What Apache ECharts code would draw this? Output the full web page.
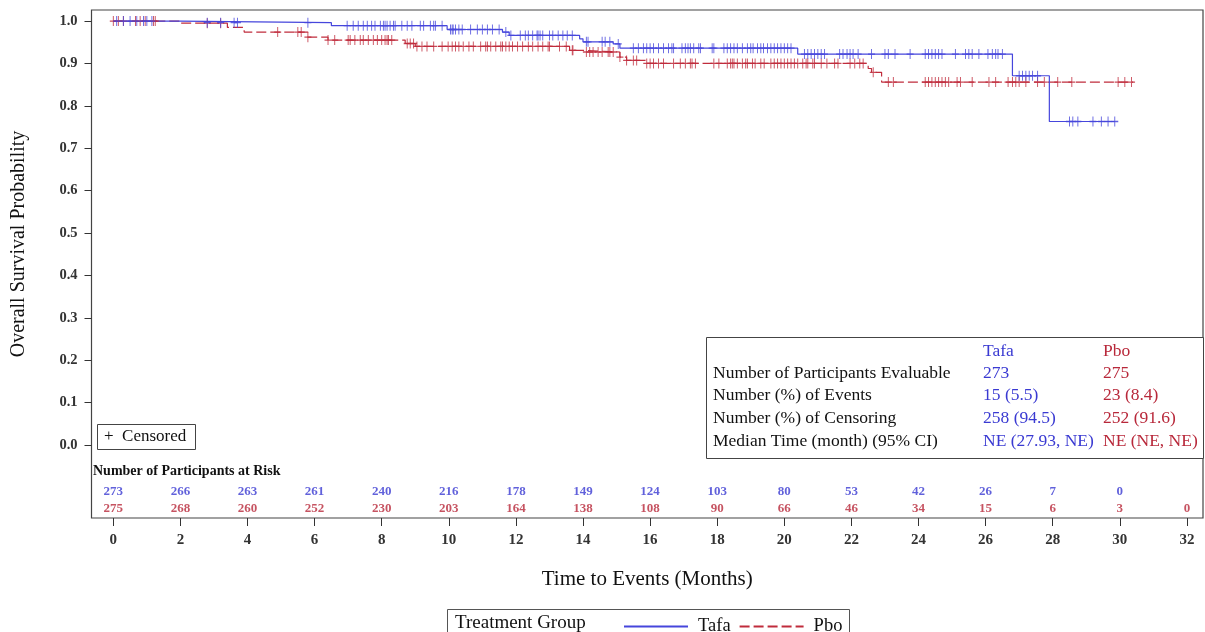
<!DOCTYPE html>
<html>
<head>
<meta charset="utf-8">
<script src="https://cdn.jsdelivr.net/npm/echarts@6/dist/echarts.min.js"></script>
<style>
html,body{margin:0;padding:0;background:#fff;}
#chart{width:1205px;height:632px;}
</style>
</head>
<body>
<div id="chart"></div>
<script>
// ---------- data ----------
var seriesNames = ['Tafa', 'Pbo'];
// Kaplan-Meier step points (time in months, survival after the step)
var tafaTimes = [0, 2.0, 6.5, 9.95, 11.6, 11.8, 13.9, 14.0, 14.9, 15.1, 20.4, 26.8, 27.9, 29.85];
var tafaSurv  = [1.0, 0.996, 0.989, 0.980, 0.974, 0.966, 0.958, 0.951, 0.946, 0.936, 0.922, 0.871, 0.763, 0.763];
var pboTimes  = [0, 2.0, 3.4, 3.9, 5.8, 6.4, 8.7, 9.0, 13.6, 13.9, 15.1, 15.3, 15.9, 22.5, 22.6, 22.9, 30.4];
var pboSurv   = [1.0, 0.995, 0.985, 0.974, 0.962, 0.955, 0.947, 0.940, 0.931, 0.927, 0.915, 0.907, 0.900, 0.888, 0.879, 0.856, 0.856];
// censoring times (months)
var tafaCensor = [0.1,0.3,0.5,0.7,0.9,1.0,1.15,2.8,3.2,3.6,3.7,5.8,6.97,7.15,7.3,7.45,7.57,7.7,7.8,7.96,8.05,8.1,8.16,8.25,8.35,8.4,8.6,8.76,8.9,9.15,9.25,9.45,9.55,9.6,9.8,10.05,10.1,10.13,10.2,10.3,10.4,10.65,10.85,11.0,11.15,11.3,11.5,11.7,11.85,12.13,12.28,12.37,12.5,12.63,12.66,12.72,12.8,13.0,13.1,13.26,13.4,13.53,13.68,14.1,14.15,14.57,14.66,14.8,15.05,15.5,15.65,15.8,15.9,16.0,16.1,16.25,16.4,16.55,16.65,16.7,16.95,17.05,17.13,17.2,17.3,17.45,17.5,17.85,17.9,18.2,18.3,18.4,18.5,18.6,18.75,18.9,19.0,19.07,19.2,19.3,19.38,19.5,19.6,19.7,19.8,19.9,20.0,20.1,20.2,20.6,20.7,20.8,20.9,21.0,21.1,21.2,21.65,21.75,21.87,21.96,22.05,22.2,22.6,23.0,23.1,23.3,23.75,24.2,24.3,24.4,24.5,24.6,24.7,25.1,25.4,25.5,25.6,25.8,26.07,26.2,26.3,26.37,26.5,27.0,27.1,27.2,27.3,27.4,27.55,28.5,28.6,28.75,29.2,29.45,29.65,29.85];
var pboCensor = [0,0.15,0.3,0.66,0.8,0.95,1.2,1.25,2.8,3.2,4.9,5.5,5.6,5.8,6.4,6.6,7.0,7.06,7.2,7.36,7.45,7.6,7.75,7.87,8.0,8.1,8.16,8.2,8.3,8.76,8.85,8.95,9.05,9.2,9.35,9.55,9.8,9.98,10.1,10.2,10.3,10.43,10.6,10.73,10.95,11.1,11.15,11.25,11.4,11.55,11.6,11.7,11.8,11.9,12.05,12.2,12.37,12.5,12.66,12.8,12.96,13.0,13.3,13.5,13.68,13.7,14.1,14.2,14.3,14.45,14.57,14.75,14.8,14.9,15.1,15.3,15.5,15.6,15.9,16.0,16.1,16.25,16.4,16.7,16.9,17.05,17.2,17.25,17.35,17.9,18.05,18.3,18.4,18.45,18.5,18.6,18.75,18.85,18.9,19.05,19.13,19.3,19.4,19.6,19.7,19.8,19.9,20.0,20.1,20.2,20.3,20.4,20.55,20.65,20.7,20.85,20.9,21.1,21.27,21.5,21.6,21.96,22.1,22.25,22.35,22.65,23.1,23.25,24.2,24.3,24.4,24.5,24.6,24.7,24.8,24.9,25.15,25.25,25.6,26.1,26.3,26.67,26.8,26.9,27.0,27.2,27.55,27.75,28.15,28.57,29.95,30.15,30.35];
// numbers at risk
var atRiskTimes = [0,2,4,6,8,10,12,14,16,18,20,22,24,26,28,30,32];
var tafaAtRisk  = [273,266,263,261,240,216,178,149,124,103,80,53,42,26,7,0];
var pboAtRisk   = [275,268,260,252,230,203,164,138,108,90,66,46,34,15,6,3,0];
// axis ticks
var xTicks = [0,2,4,6,8,10,12,14,16,18,20,22,24,26,28,30,32];
var yTicks = [0,0.1,0.2,0.3,0.4,0.5,0.6,0.7,0.8,0.9,1.0];
// summary table
var tableRows = ['Number of Participants Evaluable','Number (%) of Events','Number (%) of Censoring','Median Time (month) (95% CI)'];
var tafaStats = ['273','15 (5.5)','258 (94.5)','NE (27.93, NE)'];
var pboStats  = ['275','23 (8.4)','252 (91.6)','NE (NE, NE)'];

// ---------- styles ----------
var BLUE = '#4646dc', RED = '#c02c3c';
var BLUE_T = '#3a3ad2', RED_T = '#b8283a';
var SERIF = '"Liberation Serif","DejaVu Serif",serif';
var CROSS = 'path://M4.35,0H5.65V4.35H10V5.65H5.65V10H4.35V5.65H0V4.35H4.35Z';
var TFONT = '17.5px ' + SERIF;

function pairs(t, s){ return t.map(function(v,i){ return [v, s[i]]; }); }
function survAt(t, times, surv){
  var v = surv[0];
  for (var i=0;i<times.length;i++){ if (t >= times[i]) v = surv[i]; }
  return v;
}
function censorData(c, times, surv){ return c.map(function(t){ return [t, survAt(t, times, surv)]; }); }
function riskData(n, level){ return n.map(function(v,i){ return [atRiskTimes[i], level, v]; }); }

var chart = echarts.init(document.getElementById('chart'), null, {renderer:'canvas'});

var graphics = [
  {type:'text', x:19, y:244, rotation:Math.PI/2,
   style:{text:'Overall Survival Probability', font:'20px ' + SERIF, fill:'#111', align:'center', verticalAlign:'middle'}},
  {type:'rect', shape:{x:97.5,y:424.5,width:98,height:25}, style:{fill:'#fff', stroke:'#444', lineWidth:1}, z:10},
  {type:'text', style:{x:104, y:437, text:'+  Censored', font:'17px ' + SERIF, fill:'#111', verticalAlign:'middle'}, z:11},
  {type:'text', style:{x:93, y:471, text:'Number of Participants at Risk', font:'bold 14px ' + SERIF, fill:'#111', verticalAlign:'middle'}, z:11},
  {type:'rect', shape:{x:706.5,y:337.5,width:497,height:121}, style:{fill:'#fff', stroke:'#444', lineWidth:1}, z:10},
  {type:'text', style:{x:983, y:351, text:seriesNames[0], font:TFONT, fill:BLUE_T, verticalAlign:'middle'}, z:11},
  {type:'text', style:{x:1103, y:351, text:seriesNames[1], font:TFONT, fill:RED_T, verticalAlign:'middle'}, z:11},
  {type:'rect', shape:{x:447.5,y:609.5,width:402,height:30}, style:{fill:'#fff', stroke:'#555', lineWidth:1}, z:1},
  {type:'text', style:{x:455, y:623, text:'Treatment Group', font:'19px ' + SERIF, fill:'#111', verticalAlign:'middle'}, z:2}
];
tableRows.forEach(function(r,i){
  var y = 373 + i*22.7;
  graphics.push({type:'text', style:{x:713, y:y, text:r, font:TFONT, fill:'#111', verticalAlign:'middle'}, z:11});
  graphics.push({type:'text', style:{x:983, y:y, text:tafaStats[i], font:TFONT, fill:BLUE_T, verticalAlign:'middle'}, z:11});
  graphics.push({type:'text', style:{x:1103, y:y, text:pboStats[i], font:TFONT, fill:RED_T, verticalAlign:'middle'}, z:11});
});

var option = {
  animation:false,
  backgroundColor:'#fff',
  grid:{left:91.5, right:2, top:10, bottom:114, show:true, borderColor:'#444', borderWidth:1.2, containLabel:false},
  xAxis:{
    type:'value', min:-0.65, max:32.48,
    name:'Time to Events (Months)', nameLocation:'middle', nameGap:51,
    nameTextStyle:{fontFamily:SERIF, fontSize:21, color:'#111'},
    axisLine:{show:false, onZero:false},
    axisTick:{show:true, length:8, customValues:xTicks, lineStyle:{color:'#333'}},
    axisLabel:{customValues:xTicks, margin:15, fontFamily:SERIF, fontWeight:'bold', fontSize:15, color:'#333'},
    splitLine:{show:false}
  },
  yAxis:{
    type:'value', min:-0.172, max:1.026,
    axisLine:{show:false, onZero:false},
    axisTick:{show:true, length:7, customValues:yTicks, lineStyle:{color:'#333'}},
    axisLabel:{customValues:yTicks, margin:14, fontFamily:SERIF, fontWeight:'bold', fontSize:14.5, color:'#333',
      formatter:function(v){ return v.toFixed(1); }},
    splitLine:{show:false}
  },
  legend:{
    data:seriesNames, left:618, top:612, itemWidth:64, itemHeight:14, itemGap:8,
    itemStyle:{opacity:0},
    textStyle:{fontFamily:SERIF, fontSize:18.5, color:'#111', padding:[0,0,0,5]}, z:3
  },
  graphic:graphics,
  series:[
    {name:seriesNames[0], type:'line', step:'end', symbol:'none', showSymbol:false, data:pairs(tafaTimes, tafaSurv),
     lineStyle:{color:BLUE, width:1.2}, itemStyle:{color:BLUE}, z:3},
    {name:seriesNames[1], type:'line', step:'end', symbol:'none', showSymbol:false, data:pairs(pboTimes, pboSurv),
     lineStyle:{color:RED, width:1.2, type:[10,4]}, itemStyle:{color:RED}, z:2},
    {name:'Tafa censored', type:'scatter', symbol:CROSS, symbolSize:[7,10], data:censorData(tafaCensor, tafaTimes, tafaSurv),
     itemStyle:{color:BLUE, opacity:0.85}, z:5},
    {name:'Pbo censored', type:'scatter', symbol:CROSS, symbolSize:[7,10], data:censorData(pboCensor, pboTimes, pboSurv),
     itemStyle:{color:RED, opacity:0.85}, z:4},
    {name:'Tafa at risk', type:'scatter', symbolSize:0, data:riskData(tafaAtRisk, -0.111), z:6,
     label:{show:true, position:'inside', formatter:function(p){return p.value[2];}, fontFamily:SERIF, fontWeight:'bold', fontSize:13, color:BLUE_T}},
    {name:'Pbo at risk', type:'scatter', symbolSize:0, data:riskData(pboAtRisk, -0.149), z:6,
     label:{show:true, position:'inside', formatter:function(p){return p.value[2];}, fontFamily:SERIF, fontWeight:'bold', fontSize:13, color:RED_T}}
  ]
};
chart.setOption(option);
</script>
</body>
</html>
